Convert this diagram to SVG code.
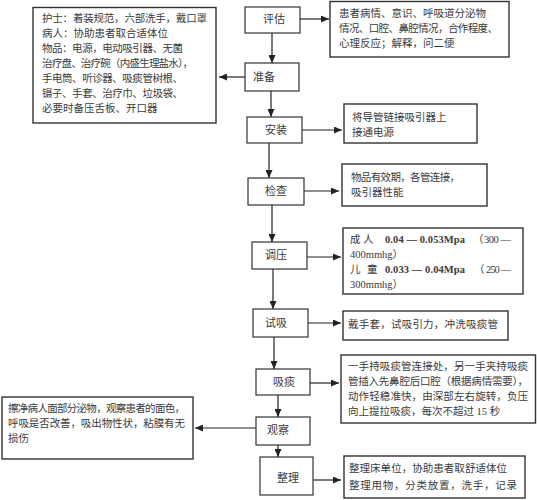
<svg xmlns="http://www.w3.org/2000/svg" width="537" height="500" viewBox="0 0 537 500">
<defs>
<marker id="arr" markerWidth="8" markerHeight="7" refX="8" refY="3.5" orient="auto" markerUnits="userSpaceOnUse">
<path d="M0,0 L8,3.5 L0,7 z" fill="#222"/>
</marker>
<style>
.box{fill:#fff;stroke:#333;stroke-width:1.2}
.note{fill:#fff;stroke:#333;stroke-width:1.4}
text{font-family:"Liberation Serif","Noto Sans CJK SC",serif;font-size:10.5px;fill:#3a3a3a}
.lbl{font-size:11px}
.b{font-weight:bold}
.con line{stroke:#222;stroke-width:1.2;marker-end:url(#arr)}
</style>
</defs>
<rect width="537" height="500" fill="#fff"/>

<g id="connectors" class="con">
<line x1="300" y1="19" x2="329" y2="19"/>
<line x1="272" y1="33" x2="272" y2="63"/>
<line x1="245" y1="77" x2="219" y2="77"/>
<line x1="271" y1="91" x2="271" y2="117"/>
<line x1="302" y1="130" x2="342" y2="130"/>
<line x1="269" y1="143" x2="269" y2="178"/>
<line x1="304" y1="191" x2="339" y2="191"/>
<line x1="272" y1="205" x2="272" y2="242"/>
<line x1="307" y1="257" x2="341" y2="257"/>
<line x1="273" y1="269" x2="273" y2="309"/>
<line x1="308" y1="323" x2="341" y2="323"/>
<line x1="274" y1="337" x2="274" y2="369"/>
<line x1="310" y1="383" x2="339" y2="383"/>
<line x1="278" y1="395" x2="278" y2="417"/>
<line x1="256" y1="428" x2="195" y2="428"/>
<line x1="278" y1="445" x2="278" y2="457"/>
<line x1="313" y1="480" x2="341" y2="480"/>
</g>

<g id="n-pinggu">
<rect class="box" x="245" y="7" width="55" height="26"/>
<text class="lbl" x="263" y="23">评估</text>
</g>
<g id="n-pinggu-note">
<rect class="note" x="330" y="1.5" width="179" height="55.5"/>
<text x="339" y="17">患者病情、意识、呼吸道分泌物</text>
<text x="339" y="32" textLength="159" lengthAdjust="spacing">情况、口腔、鼻腔情况，合作程度、</text>
<text x="339" y="47">心理反应；解释，问二便</text>
</g>

<g id="n-zhunbei">
<rect class="box" x="245" y="63" width="54" height="28"/>
<text class="lbl" x="253" y="81">准备</text>
</g>
<g id="n-zhunbei-note">
<rect class="note" x="33" y="7.5" width="183" height="115.5"/>
<text x="42" y="22" textLength="165" lengthAdjust="spacing">护士：着装规范，六部洗手，戴口罩</text>
<text x="42" y="37">病人：协助患者取合适体位</text>
<text x="42" y="52" textLength="141" lengthAdjust="spacing">物品：电源，电动吸引器、无菌</text>
<text x="42" y="67" textLength="151" lengthAdjust="spacing">治疗盘、治疗碗（内盛生理盐水），</text>
<text x="42" y="82" textLength="141" lengthAdjust="spacing">手电筒、听诊器、吸痰管树根、</text>
<text x="42" y="97" textLength="141" lengthAdjust="spacing">镊子、手套、治疗巾、垃圾袋、</text>
<text x="42" y="112">必要时备压舌板、开口器</text>
</g>

<g id="n-anzhuang">
<rect class="box" x="247" y="117" width="55" height="26"/>
<text class="lbl" x="265" y="134">安装</text>
</g>
<g id="n-anzhuang-note">
<rect class="note" x="344" y="104" width="133" height="39"/>
<text x="352" y="121">将导管链接吸引器上</text>
<text x="352" y="136">接通电源</text>
</g>

<g id="n-jiancha">
<rect class="box" x="248" y="178" width="56" height="27"/>
<text class="lbl" x="265" y="195">检查</text>
</g>
<g id="n-jiancha-note">
<rect class="note" x="342" y="164" width="145" height="42"/>
<text x="351" y="181" textLength="109" lengthAdjust="spacing">物品有效期，各管连接，</text>
<text x="351" y="196">吸引器性能</text>
</g>

<g id="n-tiaoya">
<rect class="box" x="252" y="242" width="55" height="27"/>
<text class="lbl" x="265" y="259">调压</text>
</g>
<g id="n-tiaoya-note">
<rect class="note" x="343" y="228" width="180" height="66"/>
<text x="350" y="243">成</text><text x="363" y="243">人</text>
<text class="b" x="385" y="243" textLength="80" lengthAdjust="spacing">0.04 — 0.053Mpa</text>
<text x="473" y="243">（</text>
<text x="484" y="243" textLength="27" lengthAdjust="spacing">300 —</text>
<text x="350" y="258">400mmhg）</text>
<text x="350" y="273">儿</text><text x="367" y="273">童</text>
<text class="b" x="385" y="273" textLength="80" lengthAdjust="spacing">0.033 — 0.04Mpa</text>
<text x="474" y="273">（</text>
<text x="486" y="273" textLength="25" lengthAdjust="spacing">250 —</text>
<text x="350" y="288">300mmhg）</text>
</g>

<g id="n-shixi">
<rect class="box" x="253" y="309" width="55" height="28"/>
<text class="lbl" x="265" y="327">试吸</text>
</g>
<g id="n-shixi-note">
<rect class="note" x="343" y="311" width="165" height="29"/>
<text x="348" y="328" textLength="150" lengthAdjust="spacing">戴手套，试吸引力，冲洗吸痰管</text>
</g>

<g id="n-xitan">
<rect class="box" x="256" y="369" width="54" height="26"/>
<text class="lbl" x="273" y="386">吸痰</text>
</g>
<g id="n-xitan-note">
<rect class="note" x="341" y="355" width="194.5" height="68"/>
<text x="348" y="370" textLength="180" lengthAdjust="spacing">一手持吸痰管连接处，另一手夹持吸痰</text>
<text x="348" y="385" textLength="180" lengthAdjust="spacing">管插入先鼻腔后口腔（根据病情需要），</text>
<text x="348" y="400" textLength="180" lengthAdjust="spacing">动作轻稳准快，由深部左右旋转，负压</text>
<text x="348" y="415">向上提拉吸痰，每次不超过 15 秒</text>
</g>

<g id="n-guancha">
<rect class="box" x="256" y="417" width="54" height="28"/>
<text class="lbl" x="267" y="434">观察</text>
</g>
<g id="n-guancha-note">
<rect class="note" x="2" y="397" width="191" height="62"/>
<text x="8" y="412" textLength="177" lengthAdjust="spacing">擦净病人面部分泌物，观察患者的面色，</text>
<text x="8" y="427" textLength="177" lengthAdjust="spacing">呼吸是否改善，吸出物性状，粘膜有无</text>
<text x="8" y="442">损伤</text>
</g>

<g id="n-zhengli">
<rect class="box" x="260" y="457" width="53" height="38"/>
<text class="lbl" x="277" y="482">整理</text>
</g>
<g id="n-zhengli-note">
<rect class="note" x="344" y="456" width="181" height="42"/>
<text x="349" y="472" textLength="158" lengthAdjust="spacing">整理床单位，协助患者取舒适体位</text>
<text x="349" y="489" textLength="168" lengthAdjust="spacing">整理用物，分类放置，洗手，记录</text>
</g>
</svg>
